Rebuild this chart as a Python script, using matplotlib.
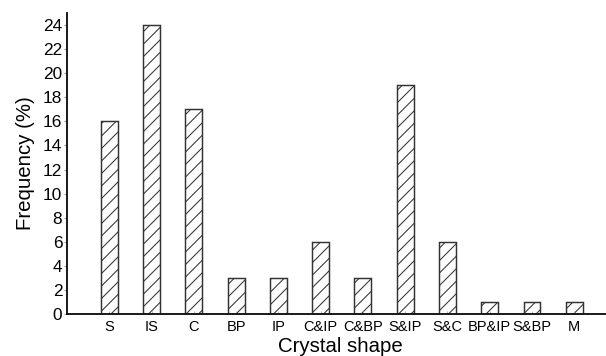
import numpy as np
import matplotlib
matplotlib.use("Agg")
import matplotlib.pyplot as plt

# Data
shapes = ["S", "IS", "C", "BP", "IP", "C&IP", "C&BP", "S&IP", "S&C", "BP&IP", "S&BP", "M"]
frequency = [16, 24, 17, 3, 3, 6, 3, 19, 6, 1, 1, 1]
y_ticks = list(range(0, 25, 2))

plt.rcParams["font.family"] = ["Liberation Sans", "DejaVu Sans"]
plt.rcParams["hatch.linewidth"] = 1.0

DPI = 75
fig = plt.figure(figsize=(606 / DPI, 356 / DPI), dpi=DPI)
ax = fig.add_axes([67 / 606, 42 / 356, 539 / 606, 301 / 356])

x = np.arange(len(shapes))
ax.bar(x, frequency, width=0.4, facecolor="white", edgecolor="#333333",
       linewidth=1.4, hatch="//")

ax.set_xlim(-1, 11.75)
ax.set_ylim(0, 25)
ax.set_xticks(x)
ax.set_xticklabels(shapes, fontsize=14)
ax.set_yticks(y_ticks)
ax.tick_params(axis="y", labelsize=16.5, direction="out", length=3,
               width=0.8, color="#888888", pad=1.5)
ax.tick_params(axis="x", direction="in", length=3, width=0.8,
               color="#aaaaaa", pad=6)

for side in ("top", "right"):
    ax.spines[side].set_visible(False)
for side in ("left", "bottom"):
    ax.spines[side].set_linewidth(1.8)
    ax.spines[side].set_color("#111111")

ax.set_xlabel("Crystal shape", fontsize=19.5)
ax.set_ylabel("Frequency (%)", fontsize=19.5)
ax.xaxis.set_label_coords(0.508, -0.076)
ax.yaxis.set_label_coords(-0.060, 0.5)

fig.savefig("out.png", dpi=DPI)
